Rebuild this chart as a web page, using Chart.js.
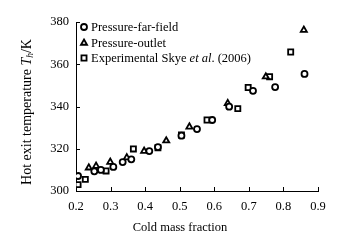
<!DOCTYPE html>
<html><head><meta charset="utf-8">
<script src="https://cdn.jsdelivr.net/npm/chart.js@4/dist/chart.umd.min.js"></script>
<style>html,body{margin:0;padding:0;background:#fff}#wrap{width:340px;height:240px}</style>
</head><body><div id="wrap"><canvas id="c" width="340" height="240"></canvas></div>
<script>
// Data
const farFieldX = [0.206,0.253,0.272,0.308,0.335,0.360,0.412,0.437,0.505,0.550,0.594,0.643,0.712,0.776,0.861];
const farFieldY = [307.1,309.3,310.0,311.4,313.7,315.0,318.9,320.8,326.2,329.3,333.6,339.9,347.4,349.2,355.4];
const outletX = [0.237,0.258,0.299,0.347,0.397,0.461,0.528,0.639,0.749,0.859];
const outletY = [311.0,311.8,313.7,315.8,318.9,323.8,330.4,341.5,354.1,376.2];
const expX = [0.206,0.227,0.287,0.366,0.437,0.505,0.579,0.668,0.698,0.760,0.821];
const expY = [303.0,305.5,309.5,319.9,320.5,326.5,333.6,339.0,349.0,354.1,365.8];
const xTicks = [0.2,0.3,0.4,0.5,0.6,0.7,0.8,0.9];
const yTicks = [300,320,340,360,380];
const seriesNames = ['Pressure-far-field','Pressure-outlet','Experimental Skye '];

const SERIF = '"Liberation Serif","Times New Roman",serif';
const toPts = (xs, ys) => xs.map((x, i) => ({x: x, y: ys[i]}));

const innerTicks = {
  id: 'innerTicks',
  afterDraw(chart) {
    const ctx = chart.ctx, xs = chart.scales.x, ys = chart.scales.y;
    ctx.save();
    ctx.strokeStyle = '#000'; ctx.lineWidth = 1;
    ctx.beginPath();
    xTicks.forEach(v => { const p = Math.round(xs.getPixelForValue(v)) + 0.5; ctx.moveTo(p, ys.bottom); ctx.lineTo(p, ys.bottom - 4); });
    yTicks.forEach(v => { const p = Math.round(ys.getPixelForValue(v)) + 0.5; ctx.moveTo(xs.left, p); ctx.lineTo(xs.left + 4, p); });
    ctx.stroke();
    ctx.restore();
  }
};

function drawParts(ctx, parts, x, y, center) {
  let w = 0;
  parts.forEach(p => { ctx.font = p.f; w += ctx.measureText(p.t).width; });
  let cx = center ? x - w / 2 : x;
  parts.forEach(p => { ctx.font = p.f; ctx.fillText(p.t, cx, y + (p.dy || 0)); cx += ctx.measureText(p.t).width; });
}

const textPlugin = {
  id: 'textPlugin',
  afterDraw(chart) {
    const ctx = chart.ctx;
    ctx.save();
    ctx.fillStyle = '#000';
    ctx.textBaseline = 'middle';
    // x title
    drawParts(ctx, [{t: 'Cold mass fraction', f: '12.5px ' + SERIF}], 180, 228, true);
    // y title
    ctx.save();
    ctx.translate(27, 112);
    ctx.rotate(-Math.PI / 2);
    drawParts(ctx, [
      {t: 'Hot exit temperature ', f: '14px ' + SERIF},
      {t: 'T', f: 'italic 14px ' + SERIF},
      {t: 'h', f: 'italic 9.5px ' + SERIF, dy: 3},
      {t: '/K', f: '14px ' + SERIF}
    ], 0, 0, true);
    ctx.restore();
    // legend
    const rows = [27, 43, 58];
    chart.data.datasets.forEach((ds, i) => {
      const y = rows[i];
      ctx.save();
      ctx.strokeStyle = '#000'; ctx.fillStyle = '#fff'; ctx.lineWidth = ds.pointBorderWidth;
      Chart.helpers.drawPoint(ctx, {pointStyle: ds.pointStyle, radius: ds.pointRadius, rotation: 0, borderWidth: ds.pointBorderWidth}, 84, y);
      ctx.restore();
      ctx.fillStyle = '#000';
      ctx.textBaseline = 'middle';
      const parts = [{t: seriesNames[i], f: '12.5px ' + SERIF}];
      if (i === 2) { parts.push({t: 'et al', f: 'italic 12.5px ' + SERIF}); parts.push({t: '. (2006)', f: '12.5px ' + SERIF}); }
      drawParts(ctx, parts, 91, y + 0.5, false);
    });
    ctx.restore();
  }
};

const common = {showLine: false, borderColor: '#000', backgroundColor: '#fff', pointBackgroundColor: '#fff', pointBorderColor: '#000', pointBorderWidth: 1.8};

new Chart(document.getElementById('c'), {
  type: 'scatter',
  data: {
    datasets: [
      Object.assign({label: seriesNames[0], data: toPts(farFieldX, farFieldY), pointStyle: 'circle', pointRadius: 3}, common),
      Object.assign({label: seriesNames[1], data: toPts(outletX, outletY), pointStyle: 'triangle', pointRadius: 3.5}, common),
      Object.assign({label: 'Experimental Skye et al. (2006)', data: toPts(expX, expY), pointStyle: 'rect', pointRadius: 3.6}, common)
    ]
  },
  options: {
    responsive: false, animation: false, devicePixelRatio: 1,
    layout: {padding: {top: 22, right: 22, left: 0, bottom: 0}},
    plugins: {legend: {display: false}, tooltip: {enabled: false}},
    scales: {
      x: {
        type: 'linear', min: 0.2, max: 0.9,
        afterFit: s => { s.height = 49; },
        afterBuildTicks: s => { s.ticks = xTicks.map(v => ({value: v})); },
        ticks: {callback: v => v.toFixed(1), color: '#000', font: {family: SERIF, size: 12.5}, padding: 8, maxRotation: 0},
        grid: {display: false, drawTicks: false},
        border: {display: true, color: '#000', width: 1}
      },
      y: {
        type: 'linear', min: 300, max: 380,
        afterFit: s => { s.width = 76; },
        afterBuildTicks: s => { s.ticks = yTicks.map(v => ({value: v})); },
        ticks: {color: '#000', font: {family: SERIF, size: 12.5}, padding: 7},
        grid: {display: false, drawTicks: false},
        border: {display: true, color: '#000', width: 1}
      }
    }
  },
  plugins: [innerTicks, textPlugin]
});
</script></body></html>
